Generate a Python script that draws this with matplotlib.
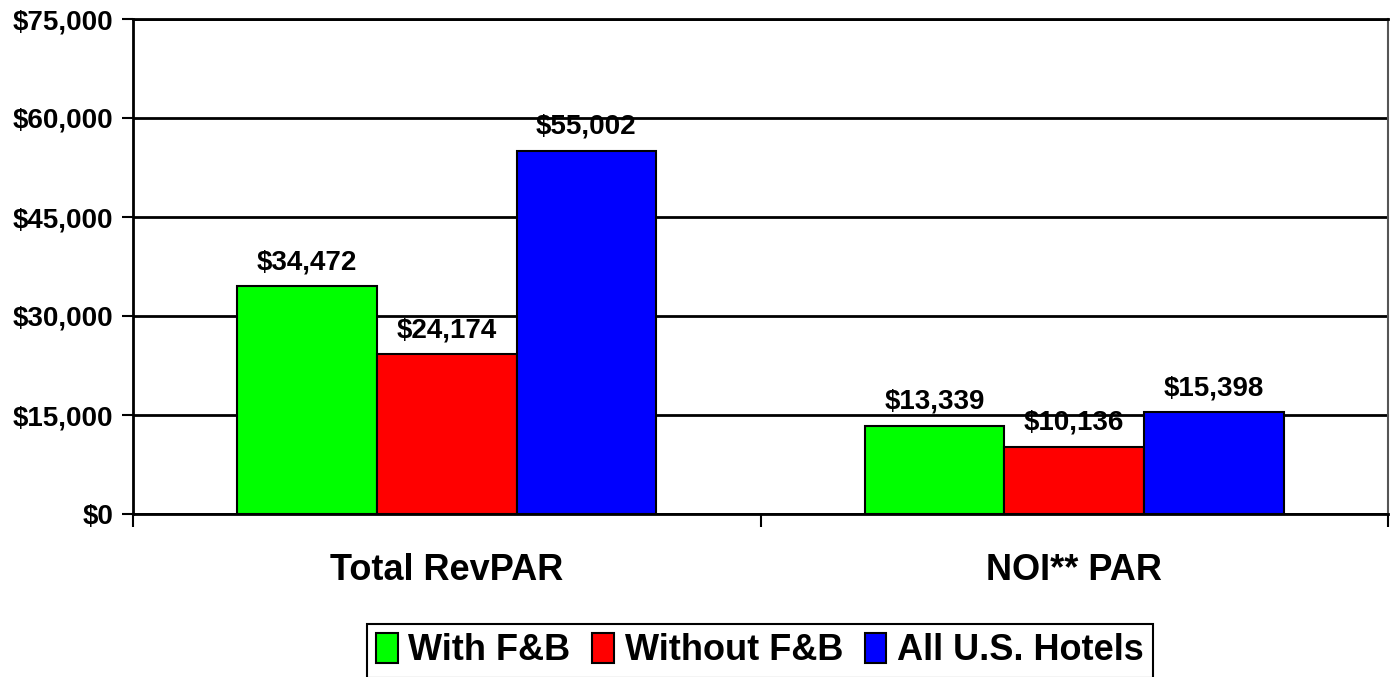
import matplotlib
matplotlib.use("Agg")
import matplotlib.pyplot as plt
import numpy as np

categories = ["Total RevPAR", "NOI** PAR"]
series_names = ["With F&B", "Without F&B", "All U.S. Hotels"]
with_fb = [34472, 13339]
without_fb = [24174, 10136]
all_us = [55002, 15398]
colors = ["#00FF00", "#FF0000", "#0000FF"]
y_ticks = [0, 15000, 30000, 45000, 60000, 75000]

plt.rcParams['font.family'] = ['Liberation Sans', 'DejaVu Sans']
plt.rcParams['font.weight'] = 'bold'

fig = plt.figure(figsize=(13.93, 6.77), dpi=100)
ax = fig.add_axes([133/1393, 1-514/677, (1388-133)/1393, (514-19)/677])

series = [with_fb, without_fb, all_us]
bw = 140/629
centers = np.arange(len(categories)) + 0.5
for i, (vals, name, c) in enumerate(zip(series, series_names, colors)):
    xs = centers + (i - 1) * bw
    ax.bar(xs, vals, width=bw, color=c, edgecolor='black', linewidth=1.5,
           label=name, zorder=3)
    for x, v in zip(xs, vals):
        ax.annotate(f"${v:,}", (x, v), xytext=(0, 8), textcoords='offset points',
                    ha='center', va='bottom', fontsize=20, fontweight='bold')

ax.set_xlim(0, 2)
ax.set_ylim(0, 75000)
ax.set_yticks(y_ticks)
ax.set_yticklabels([f"${t:,}" for t in y_ticks], fontsize=20, fontweight='bold')
ax.yaxis.grid(True, color='black', linewidth=2, zorder=0)
ax.set_axisbelow(True)
ax.set_xticks([0, 1, 2])
ax.set_xticklabels(['', '', ''])
ax.set_xticks(centers, minor=True)
ax.set_xticklabels(categories, minor=True, fontsize=26, fontweight='bold')
ax.tick_params(axis='x', which='minor', length=0, pad=28)
ax.tick_params(axis='x', which='major', length=9, width=1.5, direction='out')
ax.tick_params(axis='y', length=8, width=1.5, direction='out', pad=6)
for s in ['left', 'bottom']:
    ax.spines[s].set_linewidth(2)
ax.spines['top'].set_linewidth(2)
ax.spines['right'].set_color('#555555')
ax.spines['right'].set_linewidth(1.5)

leg = ax.legend(loc='upper center', bbox_to_anchor=(760/1393, 1-624/677),
                bbox_transform=fig.transFigure, ncol=3, frameon=True, fancybox=False,
                edgecolor='black', framealpha=1, prop={'size': 26, 'weight': 'bold'},
                handlelength=0.6, handleheight=0.9, handletextpad=0.3, columnspacing=0.6,
                borderpad=0.25, borderaxespad=0)
leg.get_frame().set_linewidth(1.5)

fig.savefig("out.png", dpi=100)
